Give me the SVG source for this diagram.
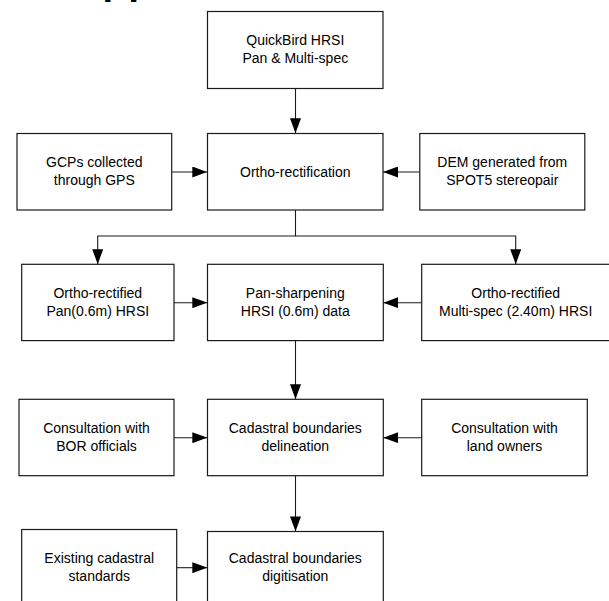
<svg xmlns="http://www.w3.org/2000/svg" width="609" height="601" viewBox="0 0 609 601">
<style>
.box{fill:#fff;stroke:#1a1a1a;stroke-width:1.2}
.lbl{font-family:"Liberation Sans",Arial,sans-serif;font-size:14px;fill:#000;text-anchor:middle}
.con{fill:none;stroke:#1a1a1a;stroke-width:1.1}
.frag{font-family:"Liberation Sans",Arial,sans-serif;font-size:20px;font-weight:bold;fill:#000}
</style>
<defs>
<marker id="ah" markerUnits="userSpaceOnUse" markerWidth="15" markerHeight="11" refX="15" refY="5.5" orient="auto">
<path d="M0,0 L15,5.5 L0,11 z" fill="#000"/>
</marker>
</defs>
<rect width="609" height="601" fill="#fff"/>
<text class="frag" x="104" y="-2.5">[…]</text>

<g id="quickbird"><rect class="box" x="207.5" y="11.5" width="175.5" height="77"/>
<text class="lbl" x="295.3" y="45">QuickBird HRSI</text><text class="lbl" x="295.3" y="63">Pan &amp; Multi-spec</text></g>

<g id="gcps"><rect class="box" x="17" y="133.5" width="154.7" height="76.5"/>
<text class="lbl" x="94.3" y="167">GCPs collected</text><text class="lbl" x="94.3" y="185">through GPS</text></g>

<g id="ortho"><rect class="box" x="207.5" y="133.5" width="175.5" height="76.5"/>
<text class="lbl" x="295.3" y="177">Ortho-rectification</text></g>

<g id="dem"><rect class="box" x="419.8" y="133.5" width="165" height="76.5"/>
<text class="lbl" x="502.3" y="167">DEM generated from</text><text class="lbl" x="502.3" y="185">SPOT5 stereopair</text></g>

<g id="pan"><rect class="box" x="21.7" y="264.3" width="152.3" height="76.3"/>
<text class="lbl" x="97.8" y="298">Ortho-rectified</text><text class="lbl" x="97.8" y="316">Pan(0.6m) HRSI</text></g>

<g id="pansharp"><rect class="box" x="207.5" y="264.3" width="175.8" height="76.3"/>
<text class="lbl" x="295.3" y="298">Pan-sharpening</text><text class="lbl" x="295.3" y="316">HRSI (0.6m) data</text></g>

<g id="multispec"><rect class="box" x="421.7" y="264.3" width="188" height="76.3"/>
<text class="lbl" x="515.7" y="298">Ortho-rectified</text><text class="lbl" x="515.7" y="316">Multi-spec (2.40m) HRSI</text></g>

<g id="bor"><rect class="box" x="19" y="399.3" width="155" height="76.4"/>
<text class="lbl" x="96.5" y="432.5">Consultation with</text><text class="lbl" x="96.5" y="450.5">BOR officials</text></g>

<g id="delineation"><rect class="box" x="207.5" y="399.3" width="175.8" height="76.4"/>
<text class="lbl" x="295.3" y="432.5">Cadastral boundaries</text><text class="lbl" x="295.3" y="450.5">delineation</text></g>

<g id="landowners"><rect class="box" x="421.7" y="399.3" width="165.6" height="76.4"/>
<text class="lbl" x="504.5" y="432.5">Consultation with</text><text class="lbl" x="504.5" y="450.5">land owners</text></g>

<g id="existing"><rect class="box" x="21.7" y="529.5" width="155" height="77"/>
<text class="lbl" x="99.2" y="562.5">Existing cadastral</text><text class="lbl" x="99.2" y="580.5">standards</text></g>

<g id="digitisation"><rect class="box" x="207.5" y="531.5" width="175.8" height="77"/>
<text class="lbl" x="295.3" y="562.5">Cadastral boundaries</text><text class="lbl" x="295.3" y="580.5">digitisation</text></g>

<g id="connectors">
<path class="con" d="M295.5,88.5 V133.3" marker-end="url(#ah)"/>
<path class="con" d="M171.7,172 H207.3" marker-end="url(#ah)"/>
<path class="con" d="M419.8,172 H383" marker-end="url(#ah)"/>
<path class="con" d="M295.5,210 V236 H97.7 V264.2" marker-end="url(#ah)"/>
<path class="con" d="M295.5,236 H515.7 V264.2" marker-end="url(#ah)"/>
<path class="con" d="M174,302.7 H207.3" marker-end="url(#ah)"/>
<path class="con" d="M421.7,302.7 H383.3" marker-end="url(#ah)"/>
<path class="con" d="M295.5,340.6 V399.2" marker-end="url(#ah)"/>
<path class="con" d="M174,437.7 H207.3" marker-end="url(#ah)"/>
<path class="con" d="M421.7,437.7 H383.3" marker-end="url(#ah)"/>
<path class="con" d="M295.5,475.7 V531.4" marker-end="url(#ah)"/>
<path class="con" d="M176.7,567.7 H207.3" marker-end="url(#ah)"/>
</g>
</svg>
